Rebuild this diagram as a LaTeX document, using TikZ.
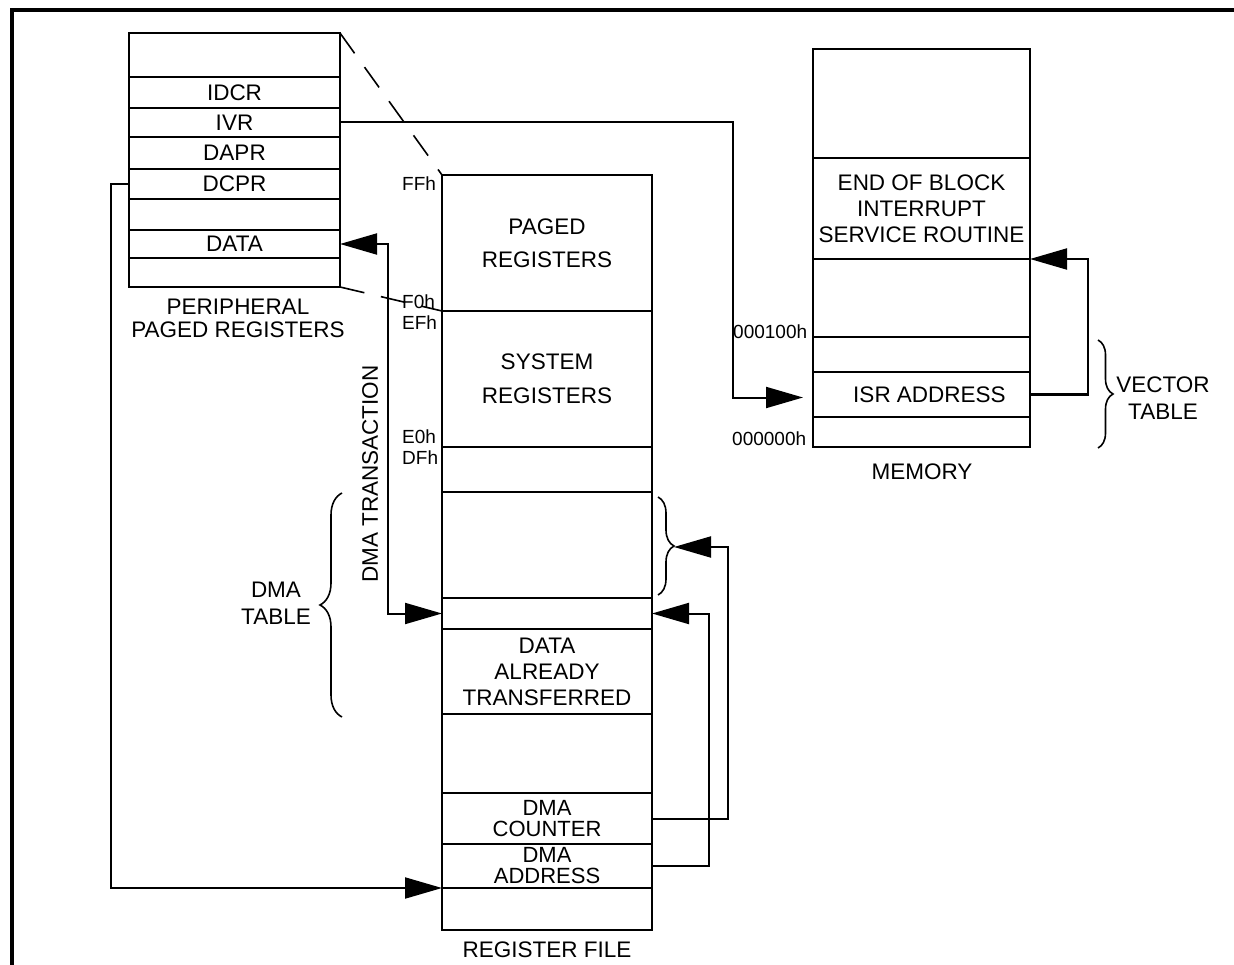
\documentclass[tikz,border=0pt]{standalone}
\usepackage{fontspec}
\setmainfont{Liberation Sans}
\usetikzlibrary{arrows.meta,decorations.pathreplacing,calc}
\begin{document}
\begin{tikzpicture}[x=1pt,y=-1pt,
  cell/.style={draw, line width=2pt, inner sep=0pt, outer sep=0pt, anchor=north west, align=center, font=\fontsize{22.5}{26}\selectfont},
  pcell/.style={cell, minimum width=211pt},
  rcell/.style={cell, minimum width=210pt},
  mcell/.style={cell, minimum width=217pt},
  lbl/.style={inner sep=0pt, align=center, font=\fontsize{22.5}{26}\selectfont},
  addr/.style={inner sep=0pt, anchor=west, font=\fontsize{19}{22}\selectfont},
  arr/.style={-{Triangle[length=37pt,width=21pt]}, line width=2pt},
  arrtwo/.style={{Triangle[length=37pt,width=21pt]}-{Triangle[length=37pt,width=21pt]}, line width=2pt},
  brc/.style={decorate, line width=1.6pt},
  dsh/.style={line width=1.6pt, dash pattern=on 25pt off 17pt}]
\useasboundingbox (0,0) rectangle (1234,965);
\fill[white] (0,0) rectangle (1234,965);
% frame
\draw[line width=3.5pt] (12,965) -- (12,10) -- (1234,10);

% peripheral paged registers
\node[pcell, minimum height=44pt] (p0) at (129,33) {};
\node[pcell, minimum height=31pt] (p1) at (p0.south west) {IDCR};
\node[pcell, minimum height=29pt] (p2) at (p1.south west) {IVR};
\node[pcell, minimum height=32pt] (p3) at (p2.south west) {DAPR};
\node[pcell, minimum height=30pt] (p4) at (p3.south west) {DCPR};
\node[pcell, minimum height=31pt] (p5) at (p4.south west) {};
\node[pcell, minimum height=28pt] (p6) at (p5.south west) {DATA};
\node[pcell, minimum height=29pt] (p7) at (p6.south west) {};
\node[lbl, font=\fontsize{22.5}{23}\selectfont] (plbl) at (238,318) {PERIPHERAL\\PAGED REGISTERS};

% register file
\node[rcell, minimum height=136pt, font=\fontsize{22.5}{33}\selectfont] (r0) at (442,175) {PAGED\\REGISTERS};
\node[rcell, minimum height=136pt, font=\fontsize{22.5}{34}\selectfont] (r1) at (r0.south west) {SYSTEM\\REGISTERS};
\node[rcell, minimum height=45pt] (r2) at (r1.south west) {};
\node[rcell, minimum height=106pt] (r3) at (r2.south west) {};
\node[rcell, minimum height=31pt] (r4) at (r3.south west) {};
\node[rcell, minimum height=85pt] (r5) at (r4.south west) {DATA\\ALREADY\\TRANSFERRED};
\node[rcell, minimum height=79pt] (r6) at (r5.south west) {};
\node[rcell, minimum height=51pt, font=\fontsize{22}{21}\selectfont] (r7) at (r6.south west) {DMA\\COUNTER};
\node[rcell, minimum height=44pt, font=\fontsize{22}{21}\selectfont] (r8) at (r7.south west) {DMA\\ADDRESS};
\node[rcell, minimum height=42pt] (r9) at (r8.south west) {};
\node[lbl] (rlbl) at (547,950) {REGISTER FILE};

\node[addr] (ffh) at (402,184) {FFh};
\node[addr] (f0h) at (402,302) {F0h};
\node[addr] (efh) at (402,323) {EFh};
\node[addr] (e0h) at (402,437) {E0h};
\node[addr] (dfh) at (402,458) {DFh};

% memory
\node[mcell, minimum height=109pt] (m0) at (813,49) {};
\node[mcell, minimum height=101pt] (m1) at (m0.south west) {END OF BLOCK\\INTERRUPT\\SERVICE ROUTINE};
\node[mcell, minimum height=78pt] (m2) at (m1.south west) {};
\node[mcell, minimum height=35pt] (m3) at (m2.south west) {};
\node[mcell, minimum height=45pt] (m4) at (m3.south west) {\hspace*{16pt}ISR ADDRESS};
\node[mcell, minimum height=30pt] (m5) at (m4.south west) {};
\node[lbl] (mlbl) at (922,472) {MEMORY};
\node[addr] (a100) at (733,332) {000100h};
\node[addr] (a000) at (732,439) {000000h};

% dashed projection lines
\draw[dsh] (p0.north east) -- (r0.north west);
\draw[dsh] (p7.south east) -- (r1.north west);

% braces
\draw[brc, decoration={brace, amplitude=16pt}] (658,497) -- (658,595);
\coordinate (btip) at (674,547);
\draw[brc, decoration={brace, amplitude=15pt}] (1098,340) -- (1098,448);
\draw[brc, decoration={brace, amplitude=22pt}] (342,717) -- (342,493);
\node[lbl, font=\fontsize{22.5}{27}\selectfont] (vt) at (1163,398) {VECTOR\\TABLE};
\node[lbl, font=\fontsize{22.5}{27}\selectfont] (dt) at (276,603) {DMA\\TABLE};
\node[lbl, rotate=90] (dtr) at (370,474) {DMA TRANSACTION};

% connectors
\draw[arr] (p2.east) -| ($(m4.west)+(-80,3)$) -- ($(m4.west)+(-10,3)$);
\draw[arr] (m4.east) -| ($(m1.south east)+(58,0)$) -- (m1.south east);
\draw[arrtwo] (p6.east) -| ($(r4.west)+(-54,0)$) -- (r4.west);
\draw[arr] (p4.west) -| ($(r9.north west)+(-331,0)$) -- (r9.north west);
\draw[arr] (r8.east) -| ($(r4.east)+(57,0)$) -- (r4.east);
\draw[arr] (r7.east) -| (728,547) -- (btip);
\end{tikzpicture}
\end{document}
